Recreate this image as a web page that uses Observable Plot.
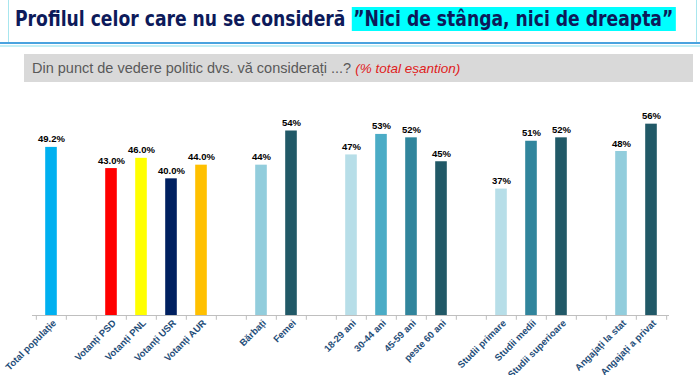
<!DOCTYPE html>
<html>
<head>
<meta charset="utf-8">
<script src="https://cdn.jsdelivr.net/npm/d3@7"></script>
<script src="https://cdn.jsdelivr.net/npm/@observablehq/plot@0.6"></script>
<style>
  html, body { margin:0; padding:0; background:#fff; width:700px; height:375px; overflow:hidden; position:relative; }
  #titlebox { position:absolute; left:8px; top:-1px; width:689px; height:43px; border-left:1px solid #a8e6ee; border-right:1px solid #a8e6ee; box-sizing:border-box; }
  #line1 { position:absolute; left:0; top:42px; width:700px; height:2px; background:#4aa3df; }
  #line2 { position:absolute; left:0; top:45px; width:700px; height:2px; background:#c4f0f6; }
  #title { position:absolute; left:15px; top:6px; white-space:nowrap; font-family:"DejaVu Sans Condensed","DejaVu Sans",sans-serif; font-weight:bold; font-size:21px; color:#0d1a5a; line-height:26px; transform-origin:0 0; }
  #title .hl { background:#00ffff; padding:0 3px 0 2px; }
  #subbox { position:absolute; left:24px; top:54px; width:669px; height:28px; background:#d9d9d9; }
  #subtitle { position:absolute; left:32px; top:54px; height:28px; line-height:29px; font-family:"Liberation Sans",Arial,sans-serif; font-size:14.5px; color:#595959; white-space:nowrap; }
  #subtitle .red { color:#e0201b; font-style:italic; font-size:13.5px; }
  #chart { position:absolute; left:0; top:90px; }
</style>
</head>
<body>
<div id="titlebox"></div>
<div id="line1"></div>
<div id="line2"></div>
<div id="title">Profilul celor care nu se consideră <span class="hl">”Nici de stânga, nici de dreapta”</span></div>
<div id="subbox"></div>
<div id="subtitle">Din punct de vedere politic dvs. vă considerați ...? <span class="red">(% total eșantion)</span></div>
<div id="chart"></div>
<script>
const categories = ["Total populație","Votanți PSD","Votanți PNL","Votanți USR","Votanți AUR","Bărbați","Femei","18-29 ani","30-44 ani","45-59 ani","peste 60 ani","Studii primare","Studii medii","Studii superioare","Angajați la stat","Angajați a privat"];
const values = [49.2,43.0,46.0,40.0,44.0,44,54,47,53,52,45,37,51,52,48,56];
const valueLabels = ["49.2%","43.0%","46.0%","40.0%","44.0%","44%","54%","47%","53%","52%","45%","37%","51%","52%","48%","56%"];
const colors = ["#00b0f0","#ff0000","#ffff00","#002060","#ffc000","#92cddc","#215967","#b7dee8","#4bacc6","#31859c","#215967","#b7dee8","#31859c","#215967","#92cddc","#215967"];
const groupSizes = [1,4,2,4,3,2];

// fit the title to the reference width
const titleEl = document.getElementById("title");
const tw = titleEl.getBoundingClientRect().width;
titleEl.style.transform = `scaleX(${661 / tw})`;

const domain = [];
let k = 0;
groupSizes.forEach((n, g) => {
  if (g > 0) domain.push("gap" + g);
  for (let i = 0; i < n; i++) domain.push(categories[k++]);
});
const data = categories.map((c, i) => ({cat: c, value: values[i], label: valueLabels[i], color: colors[i]}));

const W = 700, mL = 32, mR = 31;
const step = (W - mL - mR) / domain.length;

const chart = Plot.plot({
  width: W, height: 285,
  marginTop: 20, marginBottom: 60, marginLeft: mL, marginRight: mR,
  style: {fontFamily: "'Liberation Sans', Arial, sans-serif", background: "transparent", overflow: "visible"},
  x: {type: "band", domain, paddingInner: 0, paddingOuter: 0, axis: null, label: null},
  y: {domain: [0, 60], axis: null},
  marks: [
    Plot.barY(data, {x: "cat", y: "value", fill: "color", insetLeft: 9.2, insetRight: 9.2}),
    Plot.ruleY([0], {stroke: "#bfbfbf", strokeWidth: 1}),
    Plot.ruleX(domain, {x: d => d, y1: 0, y2: -1.4, dx: -step / 2, stroke: "#bfbfbf"}),
    Plot.ruleX([domain[domain.length - 1]], {x: d => d, y1: 0, y2: -1.4, dx: step / 2, stroke: "#bfbfbf"}),
    Plot.axisX({tickSize: 0, tickPadding: 6, tickRotate: -45, label: null, tickFormat: d => d.startsWith("gap") ? "" : d,
      color: "#1f4e79", fontSize: 9.5, fontWeight: "bold", dx: 3}),
    Plot.text(data, {x: "cat", y: "value", text: "label", dy: -8, fontWeight: "bold", fontSize: 9.5, fill: "#000"})
  ]
});
document.getElementById("chart").appendChild(chart);
</script>
</body>
</html>
